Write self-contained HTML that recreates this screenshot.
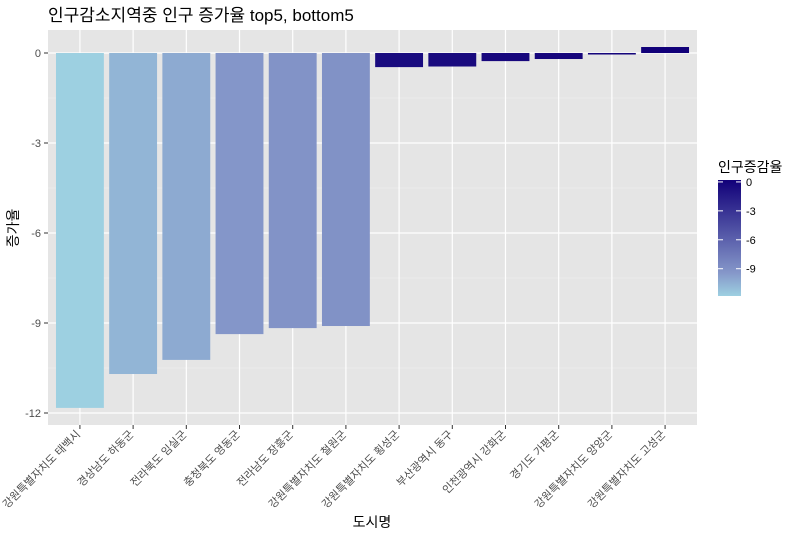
<!DOCTYPE html>
<html><head><meta charset="utf-8"><style>
body{margin:0;background:#fff;font-family:"Liberation Sans","Noto Sans CJK KR",sans-serif;}
</style></head><body>
<svg id="chart" width="802" height="536" xmlns="http://www.w3.org/2000/svg">
<defs><linearGradient id="lg" x1="0" y1="1" x2="0" y2="0">
<stop offset="0" stop-color="#9dd0e1"/><stop offset="0.2" stop-color="#8597c9"/><stop offset="1" stop-color="#110079"/></linearGradient></defs>
<text x="48" y="21" font-size="17" fill="#000">인구감소지역중 인구 증가율 top5, bottom5</text>
<rect x="48" y="30" width="649" height="395" fill="#e5e5e5"/>
<g id="grid"></g><g id="bars"></g><g id="axes"></g>
<text x="372" y="527" font-size="14" text-anchor="middle" fill="#000">도시명</text>
<text transform="translate(18,228) rotate(-90)" font-size="14" text-anchor="middle" fill="#000">증가율</text>
<g>
<text x="718" y="172" font-size="14" fill="#000">인구증감율</text>
<rect x="718" y="180" width="23" height="116" fill="url(#lg)"/>
<g id="legticks"></g>
</g>
</svg>
<script>
const categories=["강원특별자치도 태백시","경상남도 하동군","전라북도 임실군","충청북도 영동군","전라남도 장흥군","강원특별자치도 철원군","강원특별자치도 횡성군","부산광역시 동구","인천광역시 강화군","경기도 가평군","강원특별자치도 양양군","강원특별자치도 고성군"];
const values=[-11.83,-10.7,-10.23,-9.37,-9.17,-9.1,-0.47,-0.45,-0.27,-0.2,-0.05,0.2];
const yTicks=[0,-3,-6,-9,-12];
const legendTicks=[0,-3,-6,-9];
const NS="http://www.w3.org/2000/svg";
const px0=48,pw=649,py0=30,ph=395,ymax=0.767,ymin=ymax-395/30;
const step=pw/(categories.length-1+1.2);
const xc=i=>px0+step*(0.6+i);
const y=v=>py0+(ymax-v)/(ymax-ymin)*ph;
const vmin=-11.83,vmax=0.2;
const cA=[0x9d,0xd0,0xe1],cM=[0x85,0x97,0xc9],cB=[0x11,0x00,0x79];
function col(v){const t=(v-vmin)/(vmax-vmin);let a,b,u;
if(t<0.2){a=cA;b=cM;u=t/0.2;}else{a=cM;b=cB;u=(t-0.2)/0.8;}
const c=a.map((x,k)=>Math.round(x+(b[k]-x)*u));return `rgb(${c})`;}
function mk(tag,attrs,parent){const e=document.createElementNS(NS,tag);for(const k in attrs)e.setAttribute(k,attrs[k]);parent.appendChild(e);return e;}
const grid=document.getElementById('grid'),bars=document.getElementById('bars'),axes=document.getElementById('axes');
for(let i=0;i<yTicks.length-1;i++){const m=(yTicks[i]+yTicks[i+1])/2;
const l=mk('line',{x1:px0,x2:px0+pw,y1:y(m),y2:y(m),stroke:'#f2f2f2','stroke-width':0.6},grid);
}
yTicks.forEach(t=>{const l=mk('line',{x1:px0,x2:px0+pw,y1:y(t),y2:y(t),stroke:'#fff','stroke-width':1.2},grid);

const tk=mk('line',{x1:px0-4,x2:px0,y1:y(t),y2:y(t),stroke:'#333'},axes);

const tx=mk('text',{x:px0-7,y:y(t)+4,'font-size':11,'text-anchor':'end',fill:'#4d4d4d'},axes);tx.textContent=t;
});
categories.forEach((c,i)=>{const x=xc(i);
const g=mk('line',{x1:x,x2:x,y1:py0,y2:py0+ph,stroke:'#fff','stroke-width':1.2},grid);

const v=values[i];const w=step*0.9;
const r=mk('rect',{x:x-w/2,y:Math.min(y(v),y(0)),width:w,height:Math.abs(y(v)-y(0)),fill:col(v)},bars);

const tk=mk('line',{x1:x,x2:x,y1:py0+ph,y2:py0+ph+4,stroke:'#333'},axes);

const tx=mk('text',{transform:`translate(${x+1},${py0+ph+10}) rotate(-45)`,'font-size':11,'text-anchor':'end',fill:'#4d4d4d'},axes);tx.textContent=c;
});
const lg=document.getElementById('legticks');
const ly=v=>180+(0.2-v)/(0.2-(-11.83))*116;
legendTicks.forEach(t=>{
const a=mk('line',{x1:718,x2:723,y1:ly(t),y2:ly(t),stroke:'#fff'},lg);
const b=mk('line',{x1:736,x2:741,y1:ly(t),y2:ly(t),stroke:'#fff'},lg);
const tx=mk('text',{x:746,y:ly(t)+4,'font-size':11,fill:'#000'},lg);tx.textContent=t;
});
</script>
</body></html>
